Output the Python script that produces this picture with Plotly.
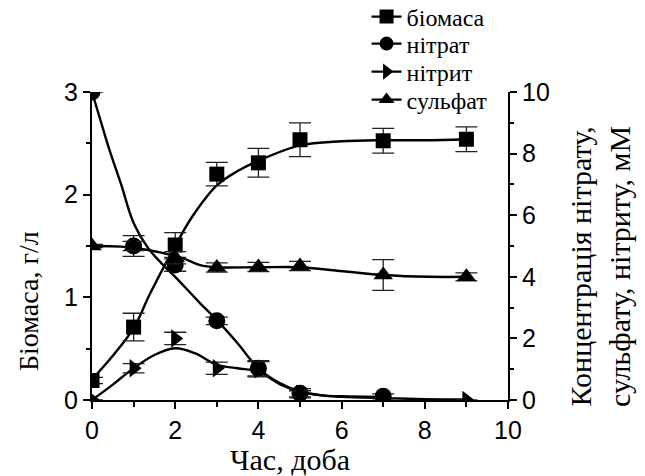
import plotly.graph_objects as go

# Measured data points (time in days)
biomass_days = [0, 1, 2, 3, 4, 5, 7, 9]
biomass = [0.19, 0.71, 1.51, 2.2, 2.31, 2.535, 2.525, 2.54]
biomass_err = [0.03, 0.135, 0.12, 0.115, 0.14, 0.165, 0.12, 0.12]

nitrate_days = [0, 1, 2, 3, 4, 5, 7]
nitrate = [10.0, 5.0, 4.38, 2.57, 1.03, 0.22, 0.12]
nitrate_err = [0.0, 0.34, 0.2, 0.12, 0.25, 0.15, 0.08]

nitrite_days = [0, 1, 2, 3, 4, 5, 9]
nitrite = [0.0, 1.03, 2.0, 1.03, 1.0, 0.2, 0.0]
nitrite_err = [0.0, 0.15, 0.2, 0.2, 0.25, 0.1, 0.0]

sulfate_days = [0, 1, 2, 3, 4, 5, 7, 9]
sulfate = [5.0, 5.0, 4.62, 4.3, 4.32, 4.35, 4.06, 4.0]
sulfate_err = [0.05, 0.15, 0.2, 0.15, 0.15, 0.15, 0.5, 0.13]

# Fitted trend curves
biomass_fit_x = [0, 0.5, 1, 1.4, 2, 2.4, 3, 3.5, 4, 5, 6, 7, 8, 9]
biomass_fit_y = [0.2, 0.43, 0.7, 1.04, 1.5, 1.78, 2.09, 2.23, 2.33, 2.48, 2.52, 2.53, 2.53, 2.54]

nitrate_fit_x = [0, 0.2, 0.4, 0.7, 1.0, 1.35, 1.75, 2.0, 2.6, 3.0, 3.5, 4.0, 4.5, 5.0, 5.5, 6.0, 7.0]
nitrate_fit_y = [10, 9.1, 8.2, 7.0, 5.75, 4.93, 4.33, 4.0, 3.14, 2.6, 1.84, 1.03, 0.56, 0.28, 0.16, 0.12, 0.1]

nitrite_fit_x = [0, 0.5, 0.94, 1.5, 2.0, 2.47, 3.0, 3.5, 4.0, 4.55, 5.0, 5.5, 6.0, 7.0, 8.0, 9.0]
nitrite_fit_y = [0, 0.5, 0.97, 1.46, 1.68, 1.52, 1.14, 1.03, 0.92, 0.49, 0.27, 0.15, 0.1, 0.06, 0.03, 0.02]

sulfate_fit_x = [0, 0.7, 1.35, 2.19, 2.6, 3.0, 4.0, 5.0, 6.1, 7.0, 8.1, 9.0]
sulfate_fit_y = [5.0, 4.98, 4.87, 4.6, 4.38, 4.31, 4.31, 4.31, 4.17, 4.06, 4.0, 4.0]

legend_names = ["біомаса", "нітрат", "нітрит", "сульфат"]
symbols = ["square", "circle", "triangle-right", "triangle-up"]
marker_sizes = [15, 17, 16, 17]

x_ticks = [0, 2, 4, 6, 8, 10]
left_ticks = [0, 1, 2, 3]
right_ticks = [0, 2, 4, 6, 8, 10]

SERIF = "Liberation Serif"
SANS = "Liberation Sans"
BLACK = "#000000"

fig = go.Figure()

series = [
    (biomass_days, biomass, biomass_err, biomass_fit_x, biomass_fit_y, "y"),
    (nitrate_days, nitrate, nitrate_err, nitrate_fit_x, nitrate_fit_y, "y2"),
    (nitrite_days, nitrite, nitrite_err, nitrite_fit_x, nitrite_fit_y, "y2"),
    (sulfate_days, sulfate, sulfate_err, sulfate_fit_x, sulfate_fit_y, "y2"),
]

# fitted curves
for (dx, dy, de, fx, fy, ax) in series:
    fig.add_trace(go.Scatter(
        x=fx, y=fy, yaxis=ax, mode="lines",
        line=dict(color=BLACK, width=2.4, shape="spline", smoothing=1.0),
        showlegend=False, hoverinfo="skip",
    ))

# measured points with error bars
for (dx, dy, de, fx, fy, ax), sym, ms, name in zip(series, symbols, marker_sizes, legend_names):
    fig.add_trace(go.Scatter(
        x=dx, y=dy, yaxis=ax, mode="markers", name=name,
        marker=dict(symbol=sym, size=ms, color=BLACK, line=dict(width=0)),
        error_y=dict(type="data", array=de, visible=True, color="#222222",
                     thickness=1.3, width=11),
        showlegend=False,
    ))

# one legend box per entry so rows can be spaced freely
legend_ids = ["legend", "legend2", "legend3", "legend4"]
legend_rows_y = [1.2435, 1.1558, 1.0649, 0.974]
for sym, name, lid in zip(symbols, legend_names, legend_ids):
    fig.add_trace(go.Scatter(
        x=[None], y=[None], mode="lines+markers", name=name, legend=lid,
        line=dict(color=BLACK, width=2.4),
        marker=dict(symbol=sym, size=14, color=BLACK),
    ))

legend_style = dict(x=0.66, xanchor="left", yanchor="middle",
                    bgcolor="rgba(0,0,0,0)", borderwidth=0,
                    font=dict(family=SERIF, size=24, color=BLACK))
legend_layout = {lid: dict(y=ly, **legend_style) for lid, ly in zip(legend_ids, legend_rows_y)}

axis_common = dict(
    showline=True, linecolor=BLACK, linewidth=2,
    ticks="outside", tickcolor=BLACK, tickwidth=2, ticklen=7,
    showgrid=False, zeroline=False,
    tickfont=dict(family=SANS, size=25, color=BLACK),
)

fig.update_layout(
    width=645, height=476,
    margin=dict(l=92, r=137, t=92, b=76, autoexpand=False),
    paper_bgcolor="white", plot_bgcolor="white",
    xaxis=dict(range=[0, 10], tickvals=x_ticks,
               minor=dict(dtick=1, ticklen=5, tickwidth=2, tickcolor=BLACK, ticks="outside"),
               **axis_common),
    yaxis=dict(range=[0, 3], tickvals=left_ticks,
               minor=dict(dtick=0.5, ticklen=4, tickwidth=2, tickcolor=BLACK, ticks="outside"),
               **axis_common),
    yaxis2=dict(range=[0, 10], tickvals=right_ticks, overlaying="y", side="right",
                minor=dict(dtick=1, ticklen=4, tickwidth=2, tickcolor=BLACK, ticks="outside"),
                **axis_common),
    showlegend=True,
    annotations=[
        dict(text="Час, доба", x=0.5, y=0, xref="paper", yref="paper",
             xanchor="center", yanchor="middle", showarrow=False,
             font=dict(family=SERIF, size=30, color=BLACK), xshift=-10, yshift=-59),
        dict(text="Біомаса, г/л", x=0, y=0.5, xref="paper", yref="paper",
             xanchor="center", yanchor="middle", showarrow=False, textangle=-90,
             xshift=-64, yshift=-55,
             font=dict(family=SERIF, size=28, color=BLACK)),
        dict(text="Концентрація нітрату,<br>сульфату, нітриту, мМ", x=1, y=0.5,
             xref="paper", yref="paper", xanchor="center", yanchor="middle",
             showarrow=False, textangle=-90, xshift=92, yshift=-21,
             font=dict(family=SERIF, size=30, color=BLACK)),
    ],
)
fig.update_layout(**legend_layout)

fig.write_html("out.html")
